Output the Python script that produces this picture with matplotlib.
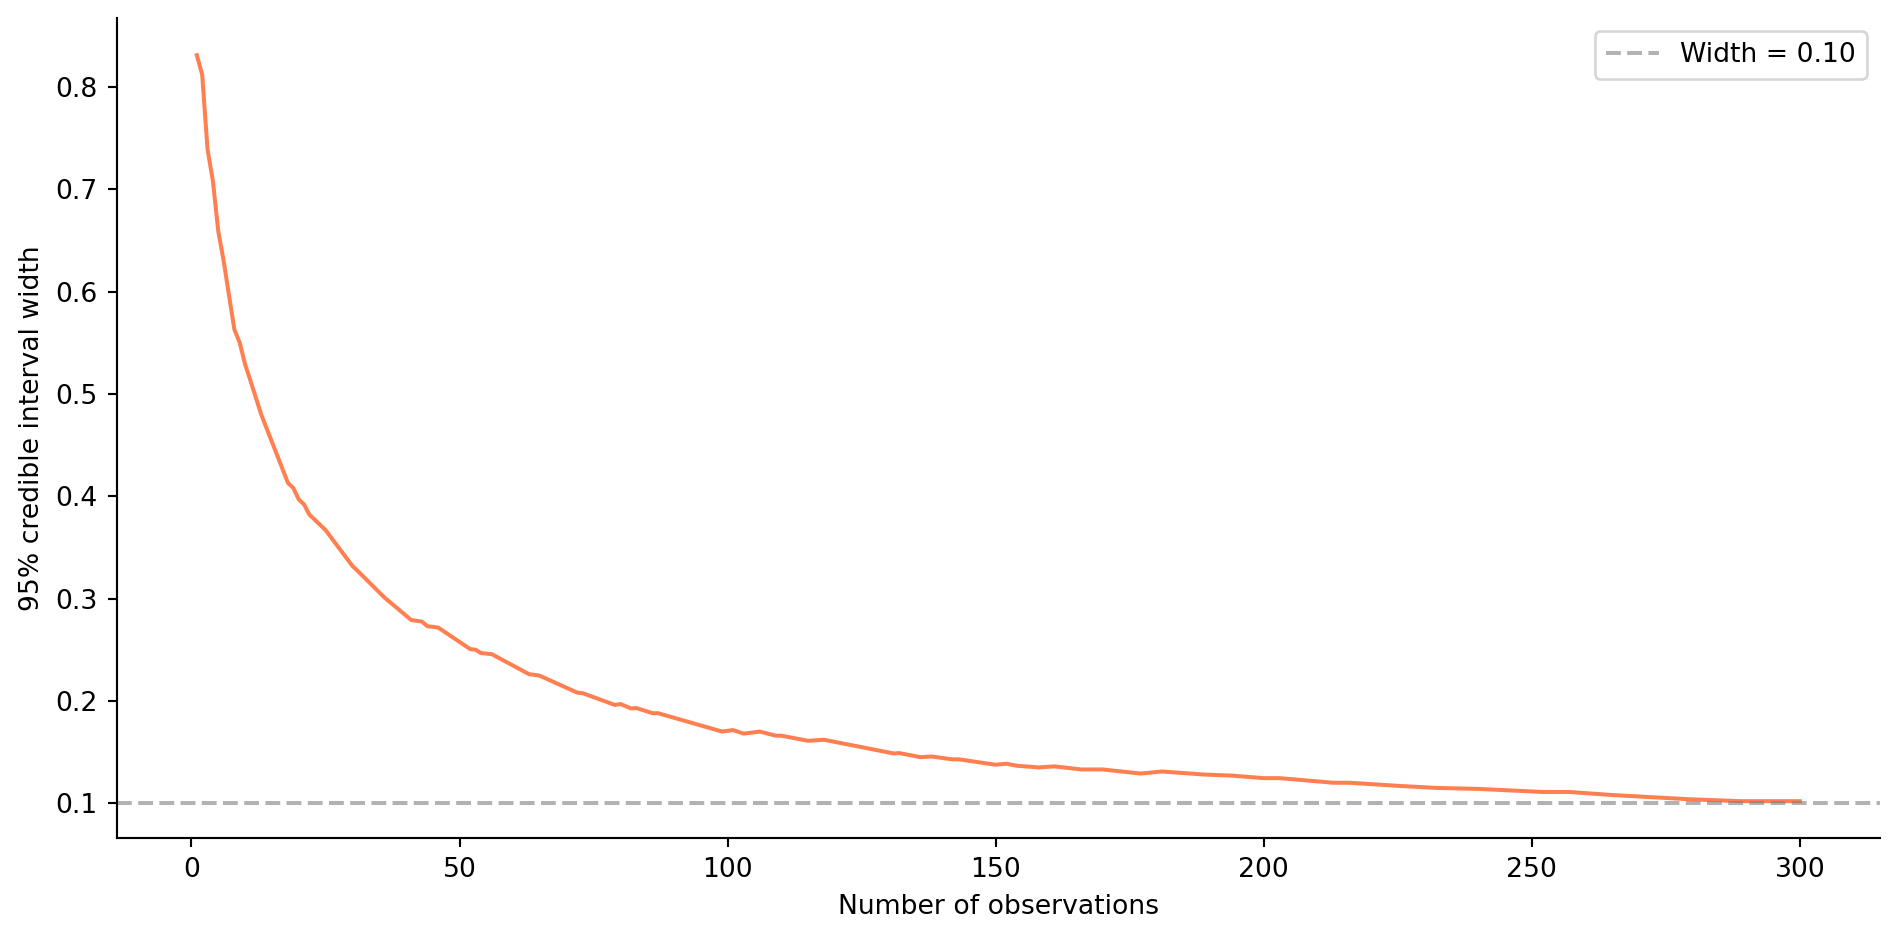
import matplotlib
matplotlib.use("Agg")
import matplotlib.pyplot as plt

n_obs = [1, 2, 3, 4, 5, 6, 8, 9, 10, 11, 13, 18, 19, 20, 21, 22, 23, 25,
         30, 31, 36, 41, 43, 44, 46, 52, 53, 54, 56, 63, 64, 65, 72, 73,
         79, 80, 82, 83, 86, 87, 99, 101, 103, 106, 109, 110, 115, 118,
         131, 132, 136, 138, 142, 143, 150, 152, 154, 158, 161, 166, 170,
         177, 181, 189, 194, 200, 203, 213, 216, 225, 232, 240, 252, 257,
         265, 279, 289, 300]
ci_width = [0.831, 0.812, 0.739, 0.708, 0.659, 0.630, 0.563, 0.550, 0.529,
            0.513, 0.480, 0.413, 0.408, 0.397, 0.392, 0.382, 0.377, 0.367,
            0.332, 0.327, 0.301, 0.279, 0.2775, 0.273, 0.2717, 0.2506,
            0.2500, 0.2467, 0.2457, 0.226, 0.2255, 0.2245, 0.208, 0.2075,
            0.196, 0.197, 0.1926, 0.193, 0.188, 0.188, 0.170, 0.1715, 0.168,
            0.170, 0.166, 0.166, 0.161, 0.162, 0.1486, 0.149, 0.145, 0.1457,
            0.1428, 0.143, 0.1376, 0.1386, 0.1366, 0.135, 0.136, 0.133,
            0.133, 0.129, 0.131, 0.128, 0.127, 0.1245, 0.1245, 0.120, 0.120,
            0.117, 0.115, 0.114, 0.111, 0.111, 0.108, 0.104, 0.102, 0.102]
target_width = 0.10

if __name__ == "__main__":
    dpi = 192
    fig, ax = plt.subplots(figsize=(1900 / dpi, 940 / dpi), dpi=dpi)
    # mimic the tight bbox crop of the original
    fig.subplots_adjust(left=0.0614, right=0.9895, bottom=0.108, top=0.981)

    ax.plot(n_obs, ci_width, color="coral", linewidth=1.5)
    ax.axhline(target_width, color="gray", linestyle="--", alpha=0.6,
               label=f"Width = {target_width:.2f}")

    ax.set_xlabel("Number of observations")
    ax.set_ylabel("95% credible interval width")
    ax.legend(loc="upper right")

    # no top/right frame
    ax.spines["top"].set_visible(False)
    ax.spines["right"].set_visible(False)

    fig.savefig("out.png", dpi=dpi)
